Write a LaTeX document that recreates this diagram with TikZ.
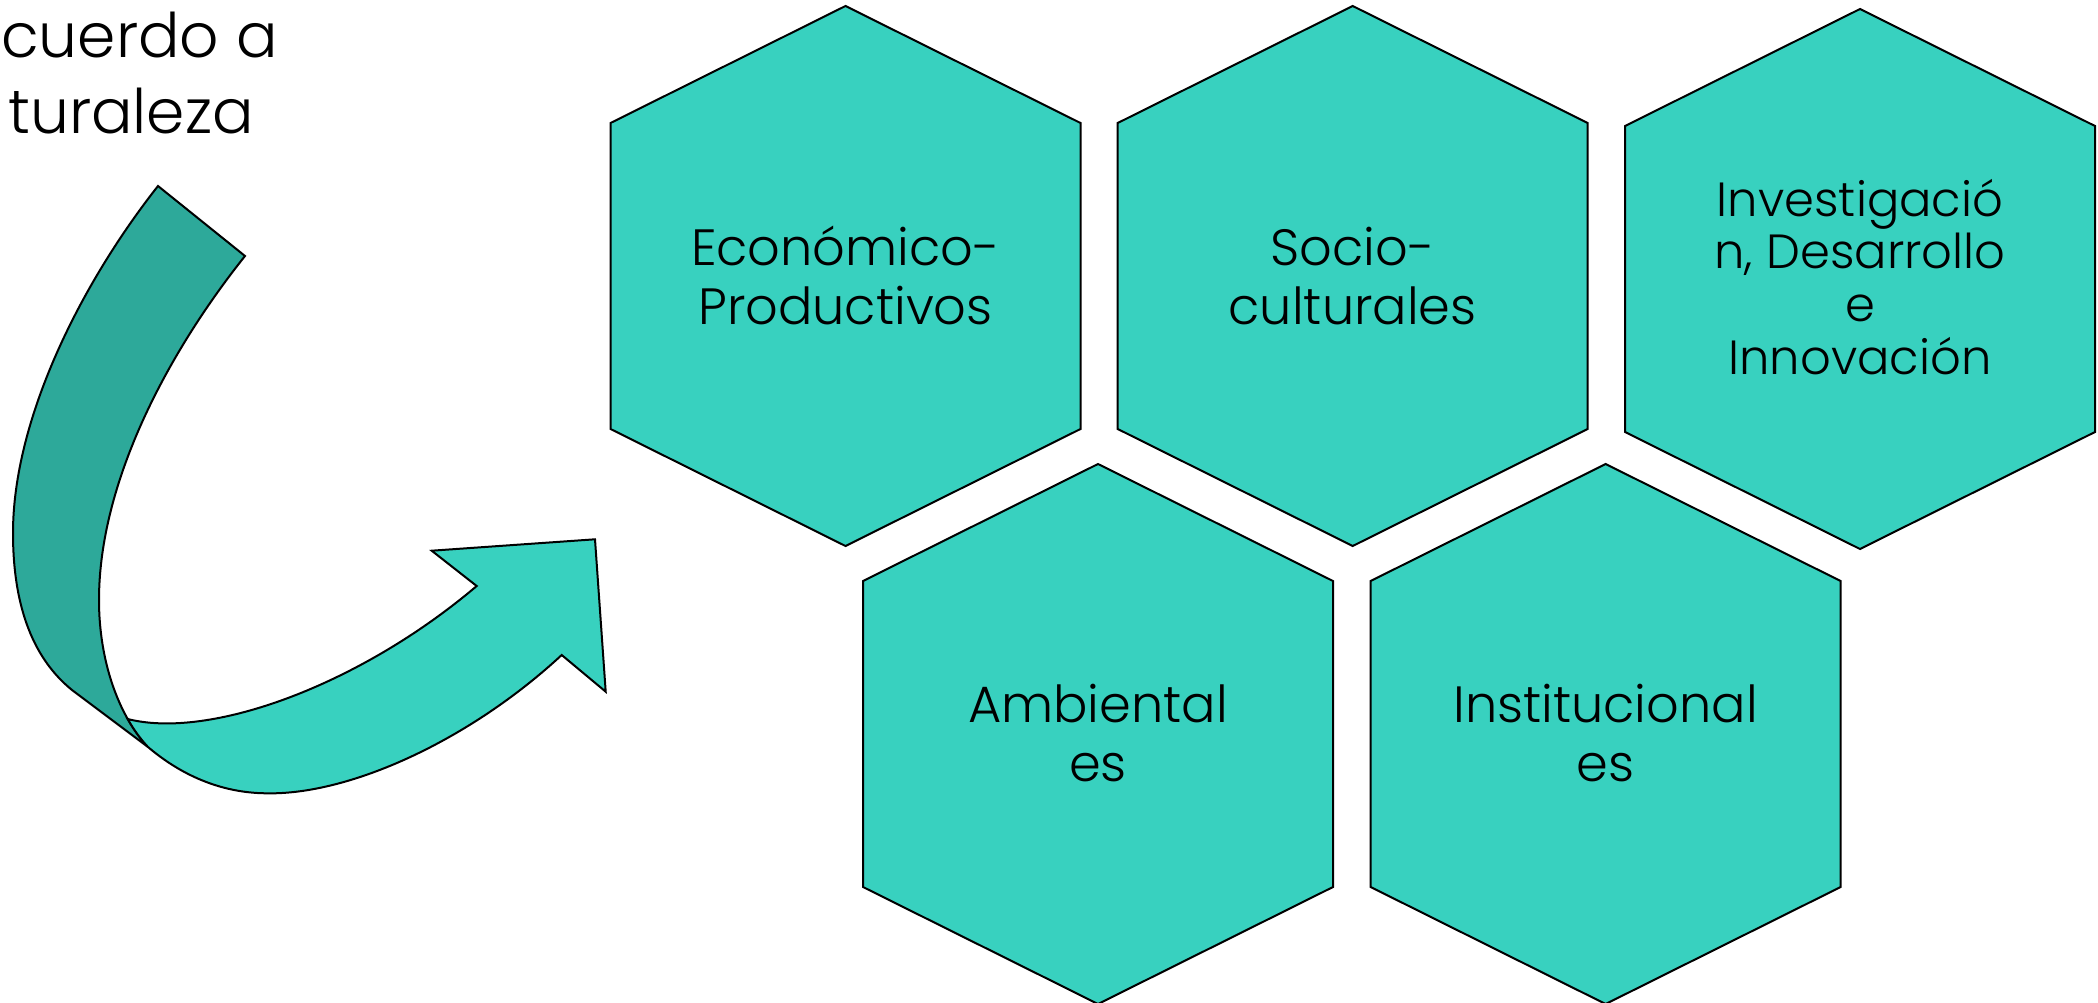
\documentclass[tikz,border=0pt]{standalone}
\usepackage{fontspec}
\setmainfont{Poppins}[UprightFont=* Light]
\definecolor{tealL}{HTML}{38D1BF}
\definecolor{tealD}{HTML}{2DA99A}
\newcommand\hexpath[2]{(#1,#2-270) -- (#1+235,#2-153) -- (#1+235,#2+153) -- (#1,#2+270) -- (#1-235,#2+153) -- (#1-235,#2-153) -- cycle}
\begin{document}
\begin{tikzpicture}[x=1pt,y=-1pt,
  hexa/.style={draw=black,line width=2pt,fill=tealL,line join=miter},
  ribbon/.style={draw=black,line width=2pt,line join=miter},
  lbl/.style={anchor=base,inner sep=0pt,font=\fontsize{51}{59}\selectfont},
  lblsmall/.style={anchor=base,inner sep=0pt,font=\fontsize{48}{52.7}\selectfont},
  title/.style={inner sep=0pt,font=\fontsize{61.5}{76}\selectfont}]
\useasboundingbox (0,0) rectangle (2098,1003);
% heading (at left edge)
\node[title,anchor=base west] (t1) at (1,57.3) {cuerdo a};
\node[title,anchor=base east] (t2) at (254,133.3) {turaleza};
% curved arrow: back (dark) part
\draw[ribbon,fill=tealD] (158,186) .. controls (80,285) and (13,420) .. (13,533)
  .. controls (13,610) and (35,660) .. (72,690) -- (148,747)
  .. controls (118,715) and (99,660) .. (99,600)
  .. controls (99,480) and (170,350) .. (245,256) -- cycle;
% curved arrow: front (light) part
\draw[ribbon,fill=tealL] (127.7,719) .. controls (210,740) and (360,685) .. (476.7,586)
  -- (431.7,550.7) -- (595,539.3) -- (605.7,691.7) -- (561.7,655)
  .. controls (470,740) and (350,795) .. (266.7,793.3)
  .. controls (215,793) and (175,770) .. (148,747)
  .. controls (140.5,739) and (133.7,729.6) .. (127.7,719) -- cycle;
% hexagons
\draw[hexa] \hexpath{845.5}{276};
\draw[hexa] \hexpath{1352.7}{276};
\draw[hexa] \hexpath{1860}{279};
\draw[hexa] \hexpath{1098}{734};
\draw[hexa] \hexpath{1605.6}{734};
% labels
\node[lbl] (h1) at (845.5,265) {\begin{tabular}[t]{@{}c@{}}Económico-\\Productivos\end{tabular}};
\node[lbl] (h2) at (1352.7,265) {\begin{tabular}[t]{@{}c@{}}Socio-\\culturales\end{tabular}};
\node[lblsmall] (h3) at (1860,216) {\begin{tabular}[t]{@{}c@{}}Investigació\\n, Desarrollo\\e\\Innovación\end{tabular}};
\node[lbl] (h4) at (1098,722.6) {\begin{tabular}[t]{@{}c@{}}Ambiental\\es\end{tabular}};
\node[lbl] (h5) at (1605.6,722.6) {\begin{tabular}[t]{@{}c@{}}Institucional\\es\end{tabular}};
\end{tikzpicture}
\end{document}
